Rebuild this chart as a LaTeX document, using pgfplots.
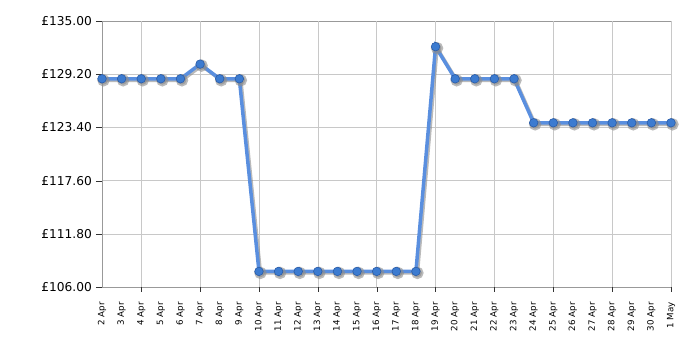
\documentclass[border=0pt]{standalone}
\usepackage{pgfplots}
\pgfplotsset{compat=1.18}
\usepackage{fontspec}
\setmainfont{DejaVu Sans}
\definecolor{linec}{HTML}{5A8FDF}
\definecolor{markf}{HTML}{3C7BD0}
\definecolor{markd}{HTML}{2A5CA8}
\definecolor{gridc}{HTML}{C8C8C8}
\definecolor{axc}{HTML}{999999}
\begin{document}
\begin{tikzpicture}[x=1bp,y=1bp]
\useasboundingbox (-102bp,-63bp) rectangle (598bp,287bp);
\begin{axis}[
  at={(0,0)}, anchor=south west,
  scale only axis, width=569bp, height=266bp,
  xmin=0, xmax=29, ymin=106, ymax=135,
  axis line style={axc},
  xtick={0,...,29},
  xticklabels={2 Apr,3 Apr,4 Apr,5 Apr,6 Apr,7 Apr,8 Apr,9 Apr,10 Apr,11 Apr,12 Apr,13 Apr,14 Apr,15 Apr,16 Apr,17 Apr,18 Apr,19 Apr,20 Apr,21 Apr,22 Apr,23 Apr,24 Apr,25 Apr,26 Apr,27 Apr,28 Apr,29 Apr,30 Apr,1 May},
  x tick label style={rotate=90, anchor=east, font=\fontsize{8.7bp}{10bp}\selectfont, inner sep=0pt},
  xticklabel shift=9bp,
  major x tick style={draw=none},
  extra x ticks={2,5,8,11,14,17,20,23,26,29},
  extra x tick labels={},
  extra x tick style={grid=major, major tick length=5bp, tick align=outside, major x tick style={draw=black!80}, major grid style={gridc}},
  ytick={106,111.8,117.6,123.4,129.2,135},
  yticklabels={£106.00,£111.80,£117.60,£123.40,£129.20,£135.00},
  y tick label style={font=\fontsize{12.2bp}{14bp}\selectfont, inner sep=0pt},
  yticklabel shift=4bp,
  ymajorgrids, major grid style={gridc},
  y tick style={draw=black!80},
  tick align=outside, major tick length=6bp,
  xtick pos=bottom, ytick pos=left,
  clip=false,
]
\addplot[black!45, opacity=0.6, line width=3.5bp, xshift=1.5bp, yshift=-1.5bp,
  mark=*, mark size=4.4bp, mark options={fill=black!45, draw=black!45}]
coordinates {(0,128.7)(1,128.7)(2,128.7)(3,128.7)(4,128.7)(5,130.3)(6,128.7)(7,128.7)(8,107.7)(9,107.7)(10,107.7)(11,107.7)(12,107.7)(13,107.7)(14,107.7)(15,107.7)(16,107.7)(17,132.2)(18,128.7)(19,128.7)(20,128.7)(21,128.7)(22,123.9)(23,123.9)(24,123.9)(25,123.9)(26,123.9)(27,123.9)(28,123.9)(29,123.9)};
\addplot[linec, line width=3.5bp, mark=*, mark size=4.3bp, mark options={fill=markf, draw=markd, line width=0.6bp}]
coordinates {(0,128.7)(1,128.7)(2,128.7)(3,128.7)(4,128.7)(5,130.3)(6,128.7)(7,128.7)(8,107.7)(9,107.7)(10,107.7)(11,107.7)(12,107.7)(13,107.7)(14,107.7)(15,107.7)(16,107.7)(17,132.2)(18,128.7)(19,128.7)(20,128.7)(21,128.7)(22,123.9)(23,123.9)(24,123.9)(25,123.9)(26,123.9)(27,123.9)(28,123.9)(29,123.9)};
\end{axis}
\end{tikzpicture}
\end{document}
